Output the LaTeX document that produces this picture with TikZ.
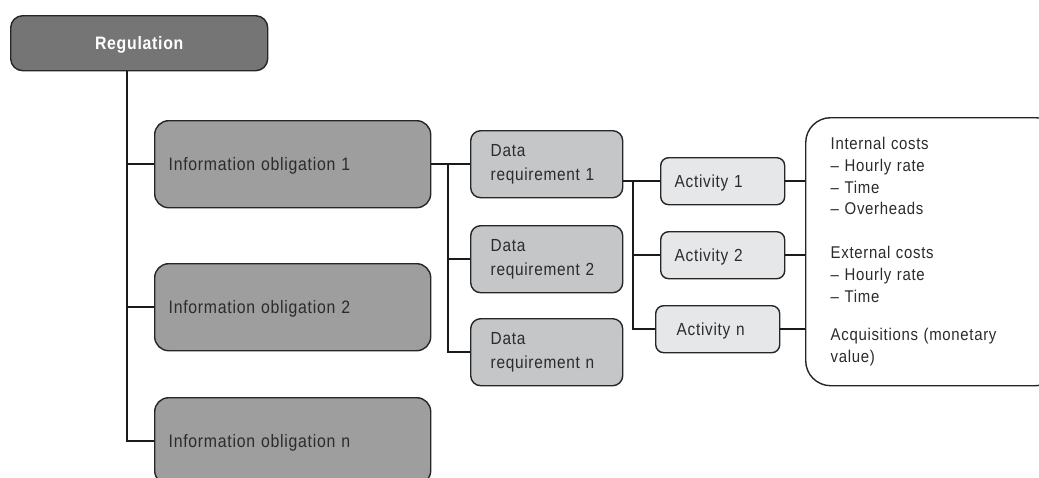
\documentclass[tikz,border=0pt]{standalone}
\usepackage{fontspec}
\setmainfont{Liberation Sans}[FakeStretch=0.88, LetterSpace=4]
\definecolor{boxline}{HTML}{262626}
\definecolor{wire}{HTML}{1A1A1A}
\definecolor{regfill}{HTML}{757575}
\definecolor{iofill}{HTML}{9E9E9F}
\definecolor{drfill}{HTML}{C5C6C8}
\definecolor{actfill}{HTML}{E6E7E8}
\definecolor{ink}{HTML}{2B2B2B}
\begin{document}
\begin{tikzpicture}[x=1pt, y=-1pt,
  base/.style={draw=boxline, line width=1.4pt, anchor=north west, inner ysep=0pt, align=left, text=ink},
  regbox/.style={base, fill=regfill, rounded corners=12pt, minimum width=257pt, minimum height=55pt,
    text=white, align=center, font=\fontsize{18}{22}\selectfont\bfseries, text height=12.9pt, text depth=0pt},
  iobox/.style={base, fill=iofill, rounded corners=14pt, minimum height=87pt, inner xsep=14pt,
    text width=248pt, font=\fontsize{18}{22}\selectfont, text height=12.9pt, text depth=0pt},
  drbox/.style={base, fill=drfill, rounded corners=10pt, minimum height=67pt, inner xsep=20pt,
    text width=112pt, font=\fontsize{17.5}{23.5}\selectfont},
  actbox/.style={base, fill=actfill, rounded corners=8pt, minimum height=47pt,
    font=\fontsize{17.5}{22}\selectfont, text height=12.5pt, text depth=0pt},
  costbox/.style={base, fill=white, rounded corners=25pt, minimum height=268pt, inner xsep=25pt,
    text width=205pt, font=\fontsize{17}{21.7}\selectfont},
  link/.style={draw=wire, line width=1.6pt}]
\useasboundingbox (0,0) rectangle (1039,477);
\clip (0,0) rectangle (1039,477);

% regulation and its information obligations
\node[regbox] (reg) at (10,15) {Regulation};
\node[iobox] (io1) at (154,120) {Information obligation 1};
\node[iobox] (io2) at (154,263) {Information obligation 2};
\node[iobox] (ion) at (154,397) {Information obligation n};

% data requirements
\node[drbox] (dr1) at (470,130) {Data\\requirement 1};
\node[drbox] (dr2) at (470,225) {Data\\requirement 2};
\node[drbox] (drn) at (470,318) {Data\\requirement n};

% activities
\node[actbox, inner xsep=14pt, text width=96pt] (act1) at (660,157) {Activity 1};
\node[actbox, inner xsep=14pt, text width=96pt] (act2) at (660,231) {Activity 2};
\node[actbox, inner xsep=21pt, text width=82pt] (actn) at (655,305) {Activity n};

% cost components
\node[costbox] (cost) at (805,117) {Internal costs\\
  -- Hourly rate\\
  -- Time\\
  -- Overheads\\[22.3pt]
  External costs\\
  -- Hourly rate\\
  -- Time\\[17pt]
  Acquisitions (monetary\\
  value)};

% bus lines
\coordinate (trunk) at (127,0);
\coordinate (bus1) at (448,0);
\coordinate (bus2) at (633,0);

\draw[link] (reg.south -| trunk) |- (ion.west);
\draw[link] (io1.west -| trunk) -- (io1.west);
\draw[link] (io2.west -| trunk) -- (io2.west);

\draw[link] (io1.east) -- (dr1.west);
\draw[link] (io1.east -| bus1) |- (drn.west);
\draw[link] (dr2.west -| bus1) -- (dr2.west);

\draw[link] (dr1.east |- act1.west) -- (act1.west);
\draw[link] (act1.west -| bus2) |- (actn.west);
\draw[link] (act2.west -| bus2) -- (act2.west);

\draw[link] (act1.east) -- (act1.east -| cost.west);
\draw[link] (act2.east) -- (act2.east -| cost.west);
\draw[link] (actn.east) -- (actn.east -| cost.west);
\end{tikzpicture}
\end{document}
